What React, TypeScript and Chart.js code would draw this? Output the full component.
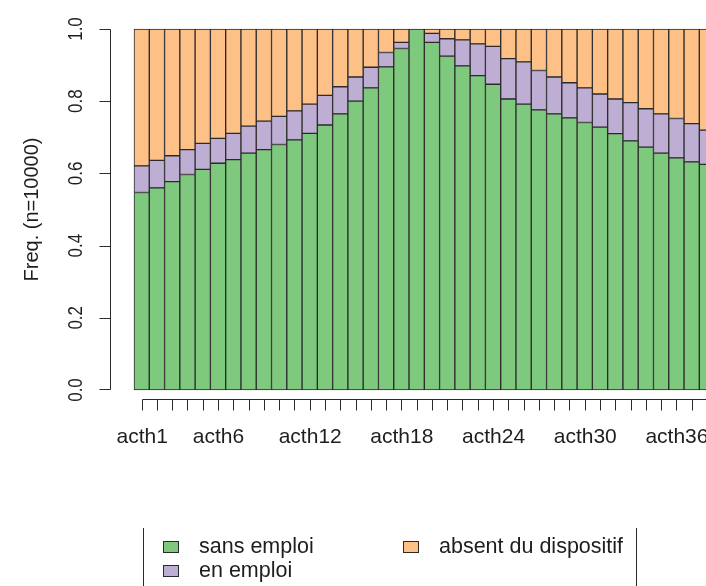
import React, { useEffect, useRef } from 'react';
import { Chart, registerables } from 'chart.js';

Chart.register(...registerables);

// ---- data ----
const categories = [
  'acth1', 'acth2', 'acth3', 'acth4', 'acth5', 'acth6', 'acth7', 'acth8', 'acth9', 'acth10',
  'acth11', 'acth12', 'acth13', 'acth14', 'acth15', 'acth16', 'acth17', 'acth18', 'acth19', 'acth20',
  'acth21', 'acth22', 'acth23', 'acth24', 'acth25', 'acth26', 'acth27', 'acth28', 'acth29', 'acth30',
  'acth31', 'acth32', 'acth33', 'acth34', 'acth35', 'acth36', 'acth37', 'acth38',
];

const sansEmploi = [
  0.547, 0.560, 0.577, 0.597, 0.611, 0.628, 0.638, 0.656, 0.666, 0.680,
  0.693, 0.711, 0.734, 0.765, 0.800, 0.837, 0.895, 0.946, 1.000, 0.963,
  0.925, 0.898, 0.871, 0.847, 0.806, 0.792, 0.776, 0.765, 0.754, 0.741,
  0.728, 0.710, 0.690, 0.673, 0.656, 0.643, 0.632, 0.625,
];

const enEmploi = [
  0.074, 0.076, 0.072, 0.069, 0.072, 0.069, 0.073, 0.075, 0.079, 0.078,
  0.080, 0.081, 0.082, 0.075, 0.067, 0.057, 0.040, 0.017, 0.000, 0.025,
  0.048, 0.072, 0.088, 0.105, 0.112, 0.117, 0.109, 0.102, 0.097, 0.096,
  0.092, 0.096, 0.106, 0.106, 0.109, 0.109, 0.106, 0.095,
];

const absentDuDispositif = [
  0.379, 0.364, 0.351, 0.334, 0.317, 0.303, 0.289, 0.269, 0.255, 0.242,
  0.227, 0.208, 0.184, 0.160, 0.133, 0.106, 0.065, 0.037, 0.000, 0.012,
  0.027, 0.030, 0.041, 0.048, 0.082, 0.091, 0.115, 0.133, 0.149, 0.163,
  0.180, 0.194, 0.204, 0.221, 0.235, 0.248, 0.262, 0.280,
];

const shownXLabels = ['acth1', 'acth6', 'acth12', 'acth18', 'acth24', 'acth30', 'acth36'];
const yTickValues = [0, 0.2, 0.4, 0.6, 0.8, 1.0];
const yTickLabels = ['0.0', '0.2', '0.4', '0.6', '0.8', '1.0'];
const yTitle = 'Freq. (n=10000)';

const seriesNames = ['sans emploi', 'en emploi', 'absent du dispositif'];
const seriesColors = ['#7FC97F', '#BEAED4', '#FDC086'];

const FONT = '"Liberation Sans", Arial, Helvetica, sans-serif';
const TEXT_COLOR = '#1e1e1e';
const LINE_COLOR = '#2a2a2a';

const rAxesPlugin = {
  id: 'rAxes',
  afterDraw(chart: any) {
    const { ctx, chartArea } = chart;
    const x = chart.scales.x;
    const y = chart.scales.y;
    ctx.save();
    ctx.strokeStyle = LINE_COLOR;
    ctx.lineWidth = 1;
    ctx.fillStyle = TEXT_COLOR;

    // ---- x axis (R style, offset below bars) ----
    const axisY = Math.round(chartArea.bottom + 9) + 0.5;
    const tickLen = 11;
    const x0 = Math.round(x.getPixelForValue(0)) + 0.5;
    const x1 = Math.round(x.getPixelForValue(categories.length - 1)) + 0.5;
    ctx.beginPath();
    ctx.moveTo(x0, axisY);
    ctx.lineTo(x1, axisY);
    for (let i = 0; i < categories.length; i++) {
      const px = Math.round(x.getPixelForValue(i)) + 0.5;
      ctx.moveTo(px, axisY);
      ctx.lineTo(px, axisY + tickLen);
    }
    ctx.stroke();

    ctx.font = `21px ${FONT}`;
    ctx.textAlign = 'center';
    ctx.textBaseline = 'alphabetic';
    categories.forEach((c, i) => {
      if (shownXLabels.includes(c)) {
        ctx.fillText(c, x.getPixelForValue(i) + 0.5, chartArea.bottom + 53);
      }
    });

    // ---- y axis ----
    const axisX = Math.round(chartArea.left - 24) + 0.5;
    const yb = Math.round(y.getPixelForValue(0)) + 0.5;
    const yt = Math.round(y.getPixelForValue(1)) + 0.5;
    ctx.beginPath();
    ctx.moveTo(axisX, yb - 1);
    ctx.lineTo(axisX, yt);
    yTickValues.forEach((v) => {
      const py = Math.round(y.getPixelForValue(v)) + 0.5 - (v === 0 ? 1 : 0);
      ctx.moveTo(axisX, py);
      ctx.lineTo(axisX - 11, py);
    });
    ctx.stroke();

    ctx.font = `17px ${FONT}`;
    ctx.textAlign = 'center';
    ctx.textBaseline = 'alphabetic';
    yTickValues.forEach((v, i) => {
      const py = y.getPixelForValue(v);
      ctx.save();
      ctx.translate(axisX - 29, py);
      ctx.rotate(-Math.PI / 2);
      ctx.scale(1, 1.2);
      ctx.fillText(yTickLabels[i], 0, 0);
      ctx.restore();
    });

    // title
    ctx.save();
    ctx.font = `20px ${FONT}`;
    ctx.translate(chartArea.left - 96, (chartArea.top + chartArea.bottom) / 2);
    ctx.rotate(-Math.PI / 2);
    ctx.textAlign = 'center';
    ctx.fillText(yTitle, 0, 0);
    ctx.restore();

    // ---- legend ----
    const legLeft = 143.5;
    const legRight = 636.5;
    const legTop = 528;
    ctx.beginPath();
    ctx.moveTo(legLeft, legTop);
    ctx.lineTo(legLeft, chart.height + 2);
    ctx.moveTo(legRight, legTop);
    ctx.lineTo(legRight, chart.height + 2);
    ctx.stroke();

    const items = [
      { col: 0, row: 0, s: 0 },
      { col: 0, row: 1, s: 1 },
      { col: 1, row: 0, s: 2 },
    ];
    const colX = [163, 403];
    const rowY = [547, 571];
    ctx.font = `21.5px ${FONT}`;
    ctx.textAlign = 'left';
    ctx.textBaseline = 'middle';
    items.forEach((it) => {
      const bx = colX[it.col];
      const by = rowY[it.row];
      ctx.fillStyle = seriesColors[it.s];
      ctx.fillRect(bx, by - 6, 16, 12);
      ctx.strokeRect(bx + 0.5, by - 6 + 0.5, 15, 11);
      ctx.fillStyle = TEXT_COLOR;
      ctx.fillText(seriesNames[it.s], bx + 36, by);
    });

    ctx.restore();
  },
};

export default function App() {
  const canvasRef = useRef<HTMLCanvasElement | null>(null);

  useEffect(() => {
    const canvas = canvasRef.current;
    if (!canvas) return;
    const values = [sansEmploi, enEmploi, absentDuDispositif];
    const chart = new Chart(canvas, {
      type: 'bar',
      data: {
        labels: categories,
        datasets: values.map((d, i) => ({
          label: seriesNames[i],
          data: d,
          backgroundColor: seriesColors[i],
          borderColor: LINE_COLOR,
          borderWidth: 1,
          borderSkipped: false,
          categoryPercentage: 1,
          barPercentage: 1,
          clip: 4,
        })),
      },
      options: {
        responsive: false,
        animation: false,
        devicePixelRatio: 1,
        layout: { padding: { left: 134, right: 1.4, top: 29, bottom: 196 } },
        plugins: {
          legend: { display: false },
          tooltip: { enabled: false },
        },
        scales: {
          x: { stacked: true, display: false, offset: true },
          y: { stacked: true, display: false, min: 0, max: 1 },
        },
      },
      plugins: [rAxesPlugin],
    });
    return () => chart.destroy();
  }, []);

  return (
    <div
      style={{
        position: 'absolute',
        left: 0,
        top: 0,
        width: 706,
        height: 586,
        overflow: 'hidden',
        background: '#ffffff',
      }}
    >
      <canvas ref={canvasRef} width={716} height={586} style={{ display: 'block', width: 716, height: 586 }} />
    </div>
  );
}
